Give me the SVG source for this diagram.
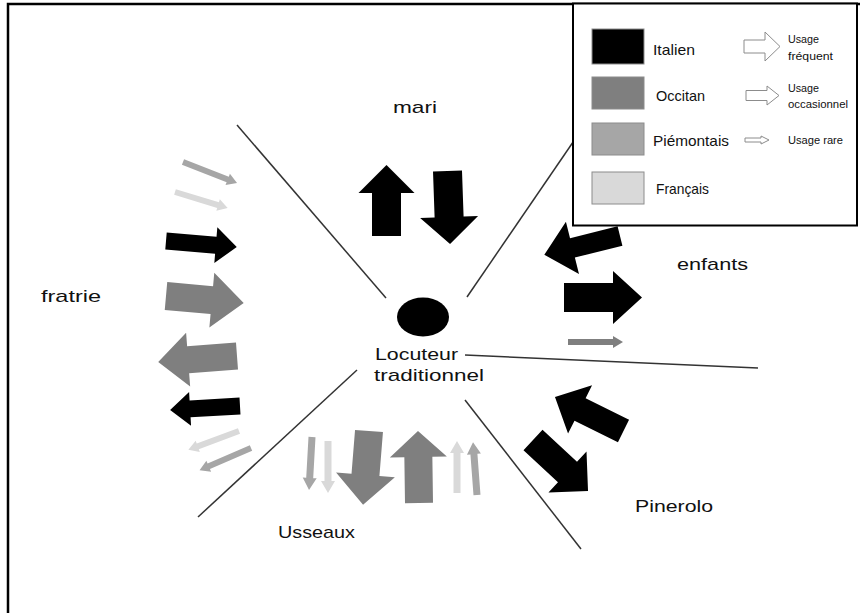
<svg xmlns="http://www.w3.org/2000/svg" width="860" height="613" viewBox="0 0 860 613">
<style>
.lbl{font-family:"Liberation Sans",Arial,sans-serif;font-size:17px;fill:#111}
.lg{font-family:"Liberation Sans",Arial,sans-serif;font-size:15px;fill:#111}
.sm{font-family:"Liberation Sans",Arial,sans-serif;font-size:11.5px;fill:#111}
.div{stroke:#333;stroke-width:1.5;fill:none}
.it{fill:#000}
.oc{fill:#7f7f7f}
.pi{fill:#a6a6a6}
.fr{fill:#d9d9d9}
.sw{stroke:#8c8c8c;stroke-width:1}
.out{fill:#fff;stroke:#8c8c8c;stroke-width:1}
</style>
<rect width="860" height="613" fill="#fff"/>
<path d="M8,613 V4 H860" fill="none" stroke="#000" stroke-width="2.5"/>

<g id="dividers">
<line class="div" x1="237" y1="125" x2="386" y2="298"/>
<line class="div" x1="467" y1="297" x2="582" y2="129"/>
<line class="div" x1="465" y1="355" x2="758" y2="368"/>
<line class="div" x1="465" y1="400" x2="581" y2="549"/>
<line class="div" x1="357" y1="370" x2="198" y2="517"/>
</g>

<g id="connectors">
<!-- mari -->
<polygon class="it" transform="translate(386.5,236) rotate(-90)" points="0,-14.5 43,-14.5 43,-28 71,0 43,28 43,14.5 0,14.5"/>
<polygon class="it" transform="translate(447.5,171) rotate(88)" points="0,-14.5 46,-14.5 46,-29 73,0 46,29 46,14.5 0,14.5"/>
<!-- fratrie -->
<polygon class="pi" transform="translate(183,162) rotate(21.3)" points="0,-3 48,-3 48,-6 58,0 48,6 48,3 0,3"/>
<polygon class="fr" transform="translate(175,192) rotate(16.8)" points="0,-3 45,-3 45,-6 55,0 45,6 45,3 0,3"/>
<polygon class="it" transform="translate(166,241) rotate(4.8)" points="0,-8.5 50,-8.5 50,-18 71,0 50,18 50,8.5 0,8.5"/>
<polygon class="oc" transform="translate(166,296) rotate(5.1)" points="0,-14 46,-14 46,-27.5 78,0 46,27.5 46,14 0,14"/>
<polygon class="oc" transform="translate(237,356) rotate(175.7)" points="0,-13.5 49,-13.5 49,-27 79,0 49,27 49,13.5 0,13.5"/>
<polygon class="it" transform="translate(240,406) rotate(176.7)" points="0,-8.5 50,-8.5 50,-17 70,0 50,17 50,8.5 0,8.5"/>
<polygon class="fr" transform="translate(239,431) rotate(159.6)" points="0,-3 44,-3 44,-6 54,0 44,6 44,3 0,3"/>
<polygon class="pi" transform="translate(251,448) rotate(156.7)" points="0,-3 46,-3 46,-6 56,0 46,6 46,3 0,3"/>
<!-- Usseaux -->
<polygon class="pi" transform="translate(312,437) rotate(93.2)" points="0,-3.5 41,-3.5 41,-7 53,0 41,7 41,3.5 0,3.5"/>
<polygon class="fr" transform="translate(328,441) rotate(90)" points="0,-3.5 40,-3.5 40,-7 52,0 40,7 40,3.5 0,3.5"/>
<polygon class="oc" transform="translate(369,431) rotate(94.6)" points="0,-14 44,-14 44,-29.5 74,0 44,29.5 44,14 0,14"/>
<polygon class="oc" transform="translate(419,503) rotate(-90.8)" points="0,-14 46,-14 46,-28.5 72,0 46,28.5 46,14 0,14"/>
<polygon class="fr" transform="translate(457,493) rotate(-90)" points="0,-3.5 40,-3.5 40,-7 52,0 40,7 40,3.5 0,3.5"/>
<polygon class="pi" transform="translate(477,495) rotate(-94.3)" points="0,-3.5 41,-3.5 41,-7 53,0 41,7 41,3.5 0,3.5"/>
<!-- enfants -->
<polygon class="it" transform="translate(620,236) rotate(166)" points="0,-10 49,-10 49,-27 78,0 49,27 49,10 0,10"/>
<polygon class="it" transform="translate(564,297.5)" points="0,-14.5 49,-14.5 49,-26.5 78,0 49,26.5 49,14.5 0,14.5"/>
<polygon class="oc" transform="translate(568,342)" points="0,-3 45,-3 45,-6 55,0 45,6 45,3 0,3"/>
<!-- Pinerolo -->
<polygon class="it" transform="translate(623.5,431) rotate(206.4)" points="0,-12.5 48.5,-12.5 48.5,-27 76.5,0 48.5,27 48.5,12.5 0,12.5"/>
<polygon class="it" transform="translate(533,440) rotate(42.8)" points="0,-14 47,-14 47,-28 75,0 47,28 47,14 0,14"/>
</g>

<g id="locuteur">
<ellipse cx="423" cy="317" rx="26" ry="19.5" fill="#000"/>
<text class="lbl" x="375" y="360" textLength="83" lengthAdjust="spacingAndGlyphs">Locuteur</text>
<text class="lbl" x="374" y="381" textLength="110" lengthAdjust="spacingAndGlyphs">traditionnel</text>
</g>
<g id="mari"><text class="lbl" x="393" y="113" textLength="44" lengthAdjust="spacingAndGlyphs">mari</text></g>
<g id="enfants"><text class="lbl" x="677" y="270" textLength="71" lengthAdjust="spacingAndGlyphs">enfants</text></g>
<g id="fratrie"><text class="lbl" x="41" y="302" textLength="60" lengthAdjust="spacingAndGlyphs">fratrie</text></g>
<g id="usseaux"><text class="lbl" x="278" y="538" textLength="77" lengthAdjust="spacingAndGlyphs">Usseaux</text></g>
<g id="pinerolo"><text class="lbl" x="635" y="512" textLength="78" lengthAdjust="spacingAndGlyphs">Pinerolo</text></g>

<g id="legend">
<rect x="573" y="3.5" width="284" height="222" fill="#fff" stroke="#000" stroke-width="2"/>
<rect class="it sw" x="592" y="29" width="52" height="35"/>
<rect class="oc sw" x="592" y="77" width="52" height="32"/>
<rect class="pi sw" x="592" y="123" width="52" height="32"/>
<rect class="fr sw" x="592" y="172" width="52" height="32"/>
<text class="lg" x="653" y="55" textLength="42" lengthAdjust="spacingAndGlyphs">Italien</text>
<text class="lg" x="656" y="101" textLength="49" lengthAdjust="spacingAndGlyphs">Occitan</text>
<text class="lg" x="653" y="146" textLength="76" lengthAdjust="spacingAndGlyphs">Piémontais</text>
<text class="lg" x="656" y="194" textLength="53" lengthAdjust="spacingAndGlyphs">Français</text>
<polygon class="out" points="744,40 765,40 765,32 780,46.5 765,61 765,53 744,53"/>
<polygon class="out" points="746,90.5 767,90.5 767,86 779,95.5 767,105 767,100.5 746,100.5"/>
<polygon class="out" points="745,138 761,138 761,136 769,140 761,144 761,142 745,142"/>
<text class="sm" x="788" y="43" textLength="31" lengthAdjust="spacingAndGlyphs">Usage</text>
<text class="sm" x="788" y="60" textLength="45" lengthAdjust="spacingAndGlyphs">fréquent</text>
<text class="sm" x="788" y="92" textLength="31" lengthAdjust="spacingAndGlyphs">Usage</text>
<text class="sm" x="788" y="108" textLength="60" lengthAdjust="spacingAndGlyphs">occasionnel</text>
<text class="sm" x="788" y="144" textLength="55" lengthAdjust="spacingAndGlyphs">Usage rare</text>
</g>
</svg>
